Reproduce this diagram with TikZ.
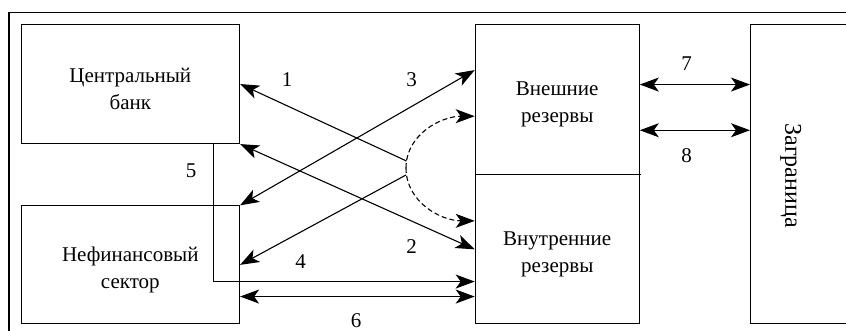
\documentclass[tikz,border=0pt]{standalone}
\usepackage{fontspec}
\setmainfont{Liberation Serif}
\newfontfamily\serfont{Liberation Serif}
\usetikzlibrary{arrows.meta}
\begin{document}
\begin{tikzpicture}[x=1pt,y=-1pt,
  box/.style={draw,line width=1.1pt,rectangle,inner sep=0pt,anchor=north west},
  txt/.style={font=\serfont\fontsize{21}{27}\selectfont,align=center,inner sep=0pt},
  num/.style={font=\serfont\fontsize{21}{25}\selectfont,inner sep=0pt},
  conn/.style={line width=1.1pt},
  dashconn/.style={line width=1.1pt,dash pattern=on 5pt off 3pt},
  >={Stealth[length=19pt,width=14pt,inset=5pt]}]
\useasboundingbox (0,0) rectangle (846,331);
% outer frame (left and top visible)
\draw[line width=1.1pt] (9,331) -- (9,12.7) -- (846,12.7);
% boxes
\node[box,minimum width=218.5pt,minimum height=119pt] (cb) at (20.5,24) {};
\node[box,minimum width=218.5pt,minimum height=118pt] (nf) at (20.5,205.3) {};
\node[box,minimum width=164pt,minimum height=150.3pt] (ext) at (474.7,24) {};
\node[box,minimum width=164pt,minimum height=149pt] (int) at (474.7,174.3) {};
\node[box,minimum width=95.5pt,minimum height=299.3pt] (zag) at (750,24) {};
% texts
\node[txt] (cbt) at ([yshift=-5pt]cb.center) {Центральный\\банк};
\node[txt] (nft) at ([yshift=-5.5pt]nf.center) {Нефинансовый\\сектор};
\node[txt] (extt) at ([yshift=-5pt]ext.center) {Внешние\\резервы};
\node[txt] (intt) at ([yshift=-5.5pt]int.center) {Внутренние\\резервы};
\node[txt,font=\serfont\fontsize{24}{28}\selectfont,rotate=-90] (zagt) at ([xshift=-7.5pt,yshift=-1.3pt]zag.center) {Заграница};
% junction points
\coordinate (j1) at (406.5,161);
\coordinate (j) at (406,168);
\coordinate (j2) at (406,175);
% connectors
\draw[conn,->] (j1) -- (cb.east);
\draw[conn,<->] (nf.north east) -- ([yshift=29.6pt]ext.west);
\draw[conn,<->] (cb.south east) -- (int.west);
\draw[conn,->] (j2) -- (nf.east);
\draw[dashconn,->] (j) to[out=90,in=180] ([yshift=-16.5pt]ext.west);
\draw[dashconn,->] (j) to[out=-90,in=180] ([yshift=28.5pt]int.west);
\draw[conn,->] ([xshift=83.25pt]cb.south) |- ([yshift=-32.2pt]int.west);
\draw[conn,<->] ([yshift=-31.7pt]nf.east) -- ([yshift=-47.2pt]int.west);
\draw[conn,<->] ([yshift=15.15pt]ext.east) -- ([yshift=89.65pt]zag.west);
\draw[conn,<->] ([yshift=-30.55pt]ext.east) -- ([yshift=43.95pt]zag.west);
\draw[line width=1.1pt] (int.north east) -- ++(1.5,0);
% numbers
\node[num] (n1) at (287,80) {1};
\node[num] (n2) at (411.5,247) {2};
\node[num] (n3) at (411.5,80) {3};
\node[num] (n4) at (300.5,261.5) {4};
\node[num] (n5) at (191,170.5) {5};
\node[num] (n6) at (356,320.5) {6};
\node[num] (n7) at (686.7,64) {7};
\node[num] (n8) at (686.7,155.5) {8};
\end{tikzpicture}
\end{document}
